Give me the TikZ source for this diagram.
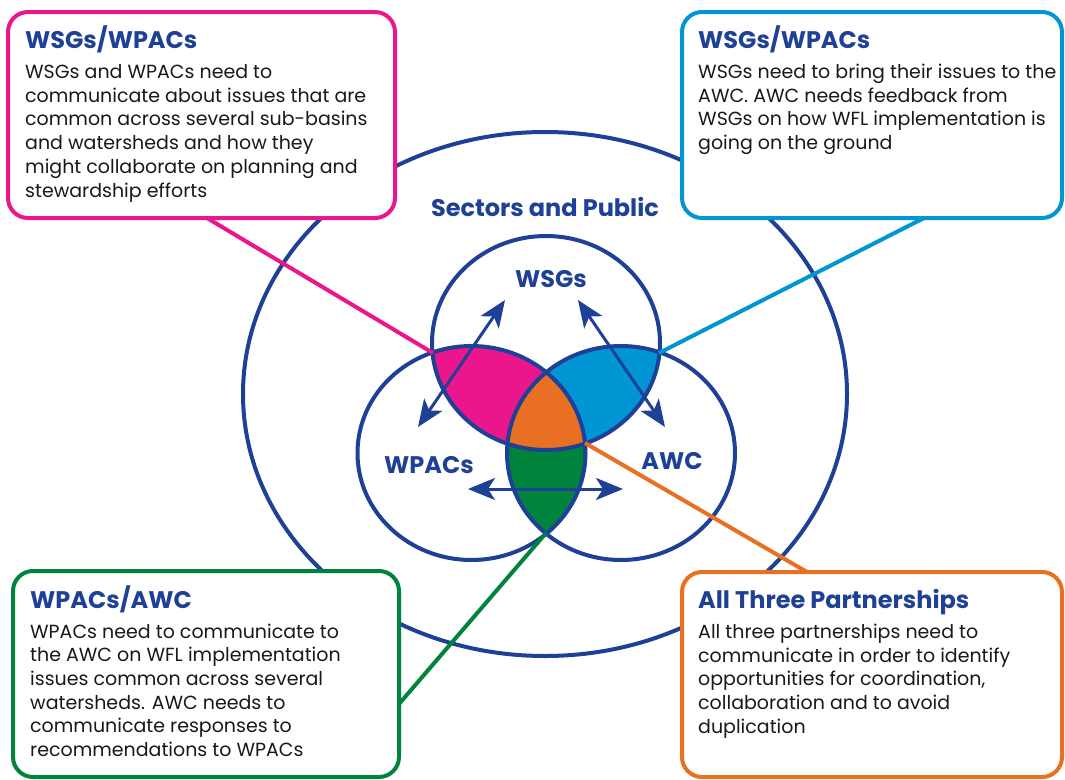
\documentclass[tikz,border=0pt]{standalone}
\usepackage{fontspec}
\setmainfont{Poppins}
\usetikzlibrary{positioning, calc, arrows.meta}

\definecolor{awcblue}{HTML}{1E4096}
\definecolor{wsgpink}{HTML}{EC168C}
\definecolor{wsgcyan}{HTML}{0095D3}
\definecolor{wpacgreen}{HTML}{00843D}
\definecolor{allorange}{HTML}{E96F22}

\newcommand{\wsgspath}{(546,343) ellipse [x radius=114, y radius=107]}
\newcommand{\wpacspath}{(471.5,453) ellipse [x radius=114, y radius=107]}
\newcommand{\awcpath}{(621,453) ellipse [x radius=114, y radius=107]}

\tikzset{
	ring/.style={draw=awcblue, line width=4pt},
	infobox/.style={draw=#1, line width=4pt, rounded corners=20pt, fill=white, inner sep=0pt},
	boxhead/.style={anchor=base west, inner sep=0pt, text=awcblue, font=\fontsize{24}{28}\selectfont\bfseries},
	% anchored at the baseline of the last line
	boxbody/.style={anchor=base west, inner sep=0pt, align=left, text=black!90, font=\fontsize{19}{23.7}\selectfont},
	link/.style={draw=#1, line width=4pt},
	twoway/.style={draw=awcblue, line width=3pt, {Stealth[length=27pt,width=22pt,inset=7pt]}-{Stealth[length=27pt,width=22pt,inset=7pt]}},
	circlabel/.style={text=awcblue, font=\fontsize{24}{28}\selectfont\bfseries, inner sep=0pt}
}

\begin{document}
\begin{tikzpicture}[x=1pt, y=-1pt]
	\useasboundingbox (0,0) rectangle (1065,779);
	\fill[white] (0,0) rectangle (1065,779);

	% outer ring
	\draw[ring] (545,394) ellipse [x radius=302, y radius=262];
	\node[circlabel] (sectors) at (545,207) {Sectors and Public};

	% overlaps
	\begin{scope}
		\clip \wsgspath;
		\fill[wsgpink] \wpacspath;
		\fill[wsgcyan] \awcpath;
	\end{scope}
	\begin{scope}
		\clip \wpacspath;
		\fill[wpacgreen] \awcpath;
	\end{scope}
	\begin{scope}
		\clip \wsgspath;
		\clip \wpacspath;
		\fill[allorange] \awcpath;
	\end{scope}
	\draw[ring] \wsgspath;
	\draw[ring] \wpacspath;
	\draw[ring] \awcpath;

	\node[circlabel] (wsgs) at (551,279) {WSGs};
	\node[circlabel] (wpacs) at (429,465) {WPACs};
	\node[circlabel] (awc) at (672,461) {AWC};

	% arrow ends
	\coordinate (wsgsL) at (505,300);
	\coordinate (wsgsR) at (578,300);
	\coordinate (wpacsT) at (418,427);
	\coordinate (wpacsR) at (468,489);
	\coordinate (awcT) at (665,427);
	\coordinate (awcL) at (623,489);
	\draw[twoway] (wpacsT) -- (wsgsL);
	\draw[twoway] (wsgsR) -- (awcT);
	\draw[twoway] (wpacsR) -- (awcL);

	% links to the boxes
	\coordinate (pinkpt) at (433,353);
	\coordinate (cyanpt) at (659,353);
	\coordinate (orangept) at (585,443);
	\coordinate (greenpt) at (546,533);
	\coordinate (pinkend) at (207,218);
	\coordinate (cyanend) at (924,218);
	\coordinate (orangeend) at (807,572);
	\coordinate (greenend) at (399,704);
	\draw[link=wsgpink] (pinkpt) -- (pinkend);
	\draw[link=wsgcyan] (cyanpt) -- (cyanend);
	\draw[link=allorange] (orangept) -- (orangeend);
	\draw[link=wpacgreen] (greenpt) -- (greenend);

	% boxes
	\node[infobox=wsgpink, minimum width=387, minimum height=206] (boxA) at (201.5,115) {};
	\node[infobox=wsgcyan, minimum width=380, minimum height=206] (boxB) at (872,115) {};
	\node[infobox=wpacgreen, minimum width=386, minimum height=206] (boxC) at (206,674) {};
	\node[infobox=allorange, minimum width=380, minimum height=205] (boxD) at (872,674.5) {};

	\node[boxhead] (headA) at ($(boxA.north west)+(19,38)$) {WSGs/WPACs};
	\node[boxbody] (bodyA) at ($(boxA.north west)+(19,187)$) {WSGs and WPACs need to\\communicate about issues that are\\common across several sub-basins\\and watersheds and how they\\might collaborate on planning and\\stewardship efforts};

	\node[boxhead] (headB) at ($(boxB.north west)+(18,38)$) {WSGs/WPACs};
	\node[boxbody] (bodyB) at ($(boxB.north west)+(18,139.5)$) {WSGs need to bring their issues to the\\AWC. AWC needs feedback from\\WSGs on how WFL implementation is\\going on the ground};

	\node[boxhead] (headC) at ($(boxC.north west)+(19,39)$) {WPACs/AWC};
	\node[boxbody] (bodyC) at ($(boxC.north west)+(19,187.5)$) {WPACs need to communicate to\\the AWC on WFL implementation\\issues common across several\\watersheds. AWC needs to\\communicate responses to\\recommendations to WPACs};

	\node[boxhead] (headD) at ($(boxD.north west)+(18,38)$) {All Three Partnerships};
	\node[boxbody] (bodyD) at ($(boxD.north west)+(18,163.3)$) {All three partnerships need to\\communicate in order to identify\\opportunities for coordination,\\collaboration and to avoid\\duplication};
\end{tikzpicture}
\end{document}
